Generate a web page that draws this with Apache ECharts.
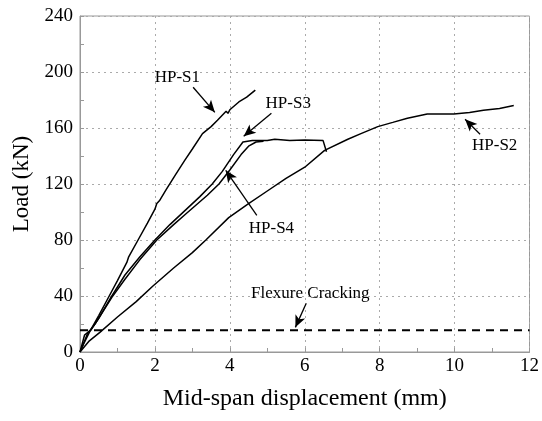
<!DOCTYPE html>
<html>
<head>
<meta charset="utf-8">
<script src="https://cdn.jsdelivr.net/npm/echarts@6/dist/echarts.min.js"></script>
<style>
  html, body { margin: 0; padding: 0; background: #fff; }
  #chart { width: 542px; height: 421px; }
</style>
</head>
<body>
<div id="chart"></div>
<script>
// load-displacement curves, [mm, kN]
const hpS1 = [[0,0],[0.1,6],[0.25,14],[0.5,26],[0.78,40],[1.0,51],[1.25,64],[1.3,68],[1.32,67],[1.55,80],[1.8,92],[2.0,102],[2.05,106],[2.12,108],[2.3,116],[2.56,127],[2.8,137],[3.0,145],[3.27,156],[3.5,161],[3.67,165.5],[3.9,172],[3.95,170.5],[4.0,173],[4.24,178.6],[4.45,182],[4.68,187]];
const hpS2 = [[0,0],[0.25,8],[0.53,14],[1.0,25],[1.5,36],[1.94,47],[2.5,60],[3.0,71],[3.36,80],[3.97,96],[4.5,106],[5.0,115],[5.5,124],[6.0,132],[6.53,144],[7.15,152],[7.5,156],[7.95,161],[8.35,164],[8.74,167],[9.27,170],[9.98,170],[10.4,171],[10.77,172.6],[11.2,174],[11.58,176]];
const hpS3 = [[0,0],[0.12,12],[0.3,16],[0.5,24],[0.85,40],[1.2,55],[1.6,68],[2.0,80],[2.4,91],[2.8,101],[3.2,111],[3.53,120],[3.8,129],[4.1,141],[4.35,150],[4.6,151],[5.0,151],[5.2,152],[5.6,151],[6.0,151.5],[6.49,151],[6.58,143]];
const hpS4 = [[0,0],[0.2,13],[0.4,20],[0.85,39],[1.2,52],[1.6,66],[2.05,80],[2.5,91],[2.8,98],[3.1,105],[3.4,112],[3.71,120],[4.0,130],[4.3,141],[4.5,147],[4.7,150],[4.9,150.5]];
const crackLoad = 15.5;
const xTicks = [0, 2, 4, 6, 8, 10, 12];
const yTicks = [0, 40, 80, 120, 160, 200, 240];

// annotations: label position and arrow [from, to], in data units
const labels = [
  { text: 'HP-S1', at: [2.60, 196.2], from: [3.02, 189.1], to: [3.60, 171.2] },
  { text: 'HP-S3', at: [5.56, 177.6], from: [5.11, 170.5], to: [4.37, 154.1] },
  { text: 'HP-S4', at: [5.11, 88.4], from: [4.72, 97.6], to: [3.89, 129.8] },
  { text: 'HP-S2', at: [11.07, 147.6], from: [10.68, 155.5], to: [10.28, 166.2] },
  { text: 'Flexure Cracking', at: [6.15, 41.9], from: [6.04, 34.8], to: [5.75, 17.6] }
];

const serif = '"Liberation Serif", "DejaVu Serif", serif';
let chart = echarts.init(document.getElementById('chart'));

function curve(name, data) {
  return {
    name: name,
    type: 'line',
    data: data,
    showSymbol: false,
    lineStyle: { color: '#000', width: 1.5 }
  };
}

chart.setOption({
  animation: false,
  grid: { left: 80, right: 9, top: 16, bottom: 69, show: true, borderColor: '#999', borderWidth: 1 },
  xAxis: {
    type: 'value', min: 0, max: 12, interval: 2,
    name: 'Mid-span displacement (mm)', nameLocation: 'middle', nameGap: 35,
    nameTextStyle: { fontFamily: serif, fontSize: 24, color: '#000' },
    axisLine: { lineStyle: { color: '#999' } },
    axisTick: { inside: true, length: 4, lineStyle: { color: '#999' } },
    minorTick: { show: true, splitNumber: 2, length: 4, lineStyle: { color: '#999' } },
    axisLabel: { fontFamily: serif, fontSize: 19, color: '#000', margin: 5,
      formatter: v => xTicks.includes(v) ? String(v) : '' },
    splitLine: { lineStyle: { color: '#aaa', type: [2, 4], width: 1 } }
  },
  yAxis: {
    type: 'value', min: 0, max: 240, interval: 40,
    name: 'Load (kN)', nameLocation: 'middle', nameGap: 47,
    nameTextStyle: { fontFamily: serif, fontSize: 23, color: '#000' },
    axisLine: { show: true, lineStyle: { color: '#999' } },
    axisTick: { show: true, inside: true, length: 4, lineStyle: { color: '#999' } },
    minorTick: { show: true, splitNumber: 2, length: 4, lineStyle: { color: '#999' } },
    axisLabel: { fontFamily: serif, fontSize: 19, color: '#000', margin: 7,
      formatter: v => yTicks.includes(v) ? String(v) : '' },
    splitLine: { lineStyle: { color: '#aaa', type: [2, 4], width: 1 } }
  },
  series: [
    curve('HP-S1', hpS1),
    curve('HP-S2', hpS2),
    curve('HP-S3', hpS3),
    curve('HP-S4', hpS4),
    {
      name: 'Flexure Cracking',
      type: 'line',
      data: [[0, crackLoad], [12, crackLoad]],
      showSymbol: false,
      lineStyle: { color: '#000', width: 2, type: [8, 6] },
      markLine: {
        silent: true,
        symbol: ['none', 'arrow'],
        symbolSize: [8, 12],
        lineStyle: { color: '#000', width: 1.3, type: 'solid' },
        label: { show: false },
        data: labels.map(l => [{ coord: l.from }, { coord: l.to }])
      },
      markPoint: {
        silent: true,
        symbol: 'circle',
        symbolSize: 0,
        label: {
          show: true, position: 'inside', color: '#000',
          fontFamily: serif, fontSize: 17,
          formatter: p => p.name
        },
        data: labels.map(l => ({ name: l.text, coord: l.at }))
      }
    }
  ]
});

window.onresize = () => {
  chart.resize();
};
</script>
</body>
</html>
